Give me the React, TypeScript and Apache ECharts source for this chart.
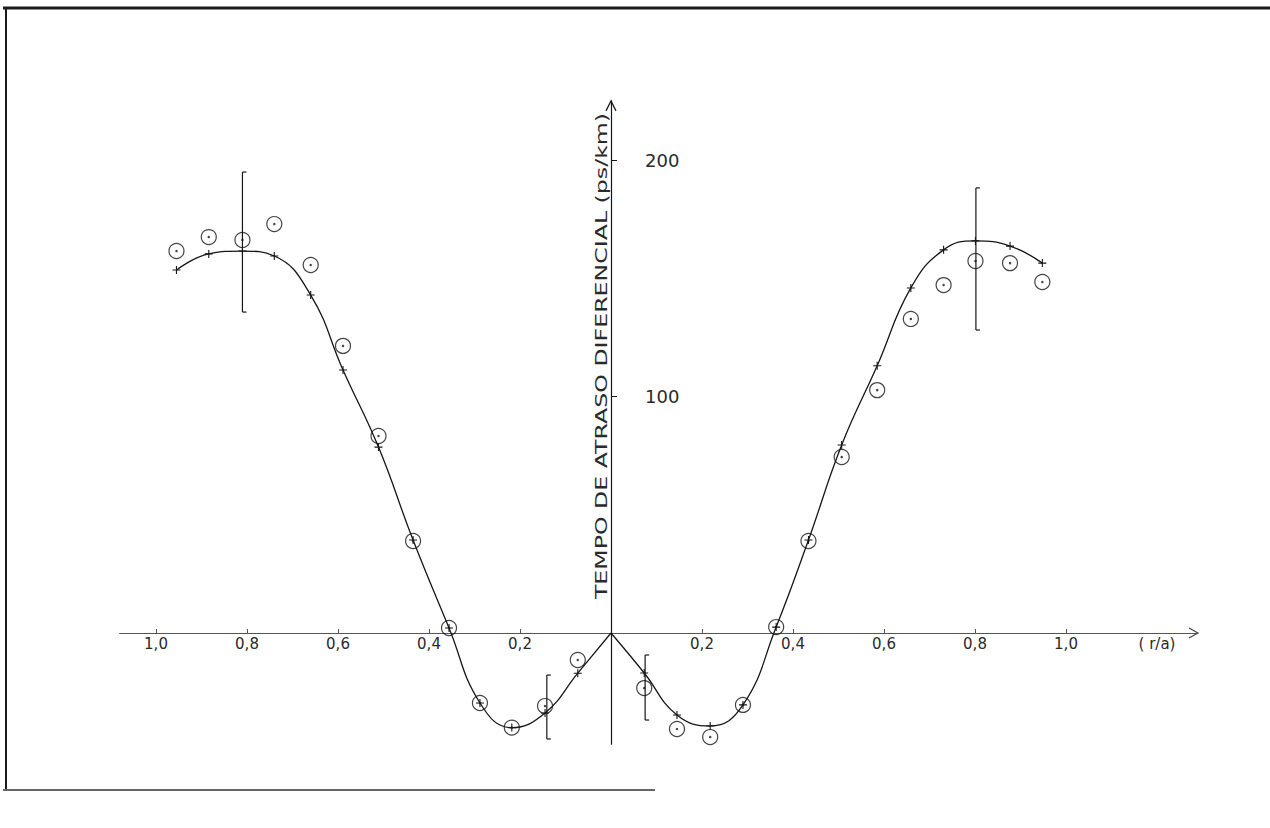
import React, { useEffect, useRef } from "react";
import * as echarts from "echarts";

// ---- data ----
const leftX = [-0.955, -0.884, -0.81, -0.74, -0.66, -0.589, -0.511, -0.435, -0.356, -0.288, -0.218, -0.145, -0.073];
const leftMeasured = [161.5, 167.4, 166.2, 172.9, 155.6, 121.4, 83.3, 38.9, 2.1, -29.6, -40.0, -30.9, -11.4];
const leftFit = [153.5, 160.3, 161.5, 159.4, 142.9, 111.2, 78.6, 39.3, 2.1, -29.6, -40.0, -33.8, -17.0];

const rightX = [0.073, 0.145, 0.218, 0.29, 0.363, 0.434, 0.507, 0.585, 0.659, 0.731, 0.801, 0.877, 0.948];
const rightMeasured = [-23.3, -40.6, -44.0, -30.4, 2.5, 38.9, 74.4, 102.7, 132.8, 147.1, 157.3, 156.4, 148.4];
const rightFit = [-16.9, -34.7, -39.3, -30.4, 2.5, 39.3, 79.5, 113.0, 145.9, 162.0, 165.8, 163.6, 156.4];

// error bars: [x, low, high]
const errorBars = [
  [-0.81, 135.7, 194.9],
  [-0.141, -44.8, -17.8],
  [0.075, -36.8, -9.3],
  [0.802, 128.1, 188.2],
];

const xTicks = [-1.0, -0.8, -0.6, -0.4, -0.2, 0.2, 0.4, 0.6, 0.8, 1.0];
const xLabelValues = [-1.0, -0.8, -0.6, -0.4, -0.2, 0.2, 0.4, 0.6, 0.8, 1.0, 1.2];
const yTicks = [100, 200];

const X_UNIT_NAME = "( r/a)";
const Y_NAME = "TEMPO DE ATRASO DIFERENCIAL (ps/km)";

// ---- layout ----
const W = 1270;
const H = 828;
const X_MIN = -1.08;
const X_MAX = 1.29;
const Y_MIN = -47;
const Y_MAX = 225;
const X0 = 611; // pixel of x = 0
const PX_X = 455; // pixels per unit x
const Y0 = 633; // pixel of y = 0
const PX_Y = 2.365; // pixels per unit y

const GRID_LEFT = X0 + X_MIN * PX_X;
const GRID_WIDTH = (X_MAX - X_MIN) * PX_X;
const GRID_TOP = Y0 - Y_MAX * PX_Y;
const GRID_HEIGHT = (Y_MAX - Y_MIN) * PX_Y;
const GRID_BOTTOM_PX = GRID_TOP + GRID_HEIGHT;

const INK = "#161616";
const FONT = "DejaVu Sans";

const PLUS = "path://M0,5 L10,5 M5,0 L5,10";

export default function App() {
  const ref = useRef<HTMLDivElement>(null);

  useEffect(() => {
    if (!ref.current) return;
    const chart = echarts.init(ref.current, undefined, { renderer: "svg" });

    const leftCurve: any[] = leftX.map((x, i) => [x, leftFit[i]]);
    leftCurve.push({ value: [0, 0], symbol: "none" });
    const rightCurve: any[] = [{ value: [0, 0], symbol: "none" }];
    rightX.forEach((x, i) => rightCurve.push([x, rightFit[i]]));

    const measured = [
      ...leftX.map((x, i) => [x, leftMeasured[i]]),
      ...rightX.map((x, i) => [x, rightMeasured[i]]),
    ];

    const xTip = GRID_LEFT + GRID_WIDTH;
    const yTip = GRID_TOP;

    const curveStyle = {
      type: "line",
      smooth: 0.45,
      symbol: PLUS,
      symbolSize: 8,
      showSymbol: true,
      lineStyle: { color: INK, width: 1.3 },
      itemStyle: { color: "transparent", borderColor: INK, borderWidth: 1.1 },
      z: 3,
    };

    chart.setOption({
      animation: false,
      backgroundColor: "#ffffff",
      grid: {
        left: GRID_LEFT,
        top: GRID_TOP,
        width: GRID_WIDTH,
        height: GRID_HEIGHT,
        containLabel: false,
      },
      xAxis: {
        type: "value",
        position: "bottom",
        offset: -(GRID_BOTTOM_PX - Y0),
        min: X_MIN,
        max: X_MAX,
        axisLine: { onZero: false, lineStyle: { color: "#555", width: 1 } },
        axisTick: { show: true, customValues: xTicks, inside: true, length: 4, lineStyle: { color: "#555" } },
        axisLabel: {
          customValues: xLabelValues,
          margin: 3,
          color: "#2a2a2a",
          fontFamily: FONT,
          fontSize: 15,
          formatter: (v: number) =>
            v > 1.1 ? X_UNIT_NAME : Math.abs(v).toFixed(1).replace(".", ","),
        },
        splitLine: { show: false },
      },
      yAxis: {
        type: "value",
        position: "left",
        offset: -(X0 - GRID_LEFT),
        min: Y_MIN,
        max: Y_MAX,
        axisLine: { onZero: false, lineStyle: { color: INK, width: 1.2 } },
        axisTick: { show: true, customValues: yTicks, inside: true, length: 6, lineStyle: { color: INK } },
        axisLabel: {
          customValues: yTicks,
          inside: true,
          margin: 34,
          color: "#2a2a2a",
          fontFamily: FONT,
          fontSize: 18,
        },
        splitLine: { show: false },
      },
      series: [
        { ...curveStyle, name: "left", data: leftCurve },
        { ...curveStyle, name: "right", data: rightCurve },
        {
          type: "scatter",
          name: "measured",
          data: measured,
          symbol: "circle",
          symbolSize: 15,
          itemStyle: { color: "transparent", borderColor: INK, borderWidth: 1.2 },
          z: 4,
        },
        {
          type: "scatter",
          name: "dots",
          data: measured,
          symbol: "circle",
          symbolSize: 2.5,
          itemStyle: { color: INK },
          z: 5,
        },
        {
          type: "custom",
          name: "error",
          data: errorBars,
          z: 2,
          renderItem: (params: any, api: any) => {
            const x = api.value(0);
            const top = api.coord([x, api.value(2)]);
            const bot = api.coord([x, api.value(1)]);
            const s = { stroke: INK, lineWidth: 1.2 };
            return {
              type: "group",
              children: [
                { type: "line", shape: { x1: top[0], y1: top[1], x2: bot[0], y2: bot[1] }, style: s },
                { type: "line", shape: { x1: top[0], y1: top[1], x2: top[0] + 4, y2: top[1] }, style: s },
                { type: "line", shape: { x1: bot[0], y1: bot[1], x2: bot[0] + 4, y2: bot[1] }, style: s },
              ],
            };
          },
        },
      ],
      graphic: [
        // page frame
        { type: "line", shape: { x1: 3, y1: 8, x2: W, y2: 8 }, style: { stroke: "#1a1a1a", lineWidth: 3 } },
        { type: "line", shape: { x1: 6, y1: 8, x2: 6, y2: 790 }, style: { stroke: "#1a1a1a", lineWidth: 2 } },
        { type: "line", shape: { x1: 3, y1: 790, x2: 655, y2: 790 }, style: { stroke: "#666", lineWidth: 2 } },
        // axis arrows
        {
          type: "polyline",
          shape: { points: [[xTip - 9, Y0 - 5], [xTip, Y0], [xTip - 9, Y0 + 5]] },
          style: { stroke: "#444", fill: "none", lineWidth: 1.2 },
        },
        {
          type: "polyline",
          shape: { points: [[X0 - 5, yTip + 10], [X0, yTip], [X0 + 5, yTip + 10]] },
          style: { stroke: INK, fill: "none", lineWidth: 1.2 },
        },
        // y axis title
        {
          type: "text",
          x: X0 - 10,
          y: 356,
          rotation: Math.PI / 2,
          scaleX: 1.48,
          style: {
            text: Y_NAME,
            fontFamily: FONT,
            fontSize: 16,
            fill: "#2a2a2a",
            textAlign: "center",
            textVerticalAlign: "middle",
          },
        },
      ],
    });

    return () => chart.dispose();
  }, []);

  return (
    <div
      ref={ref}
      style={{ position: "fixed", left: 0, top: 0, width: W, height: H, background: "#fff" }}
    />
  );
}
